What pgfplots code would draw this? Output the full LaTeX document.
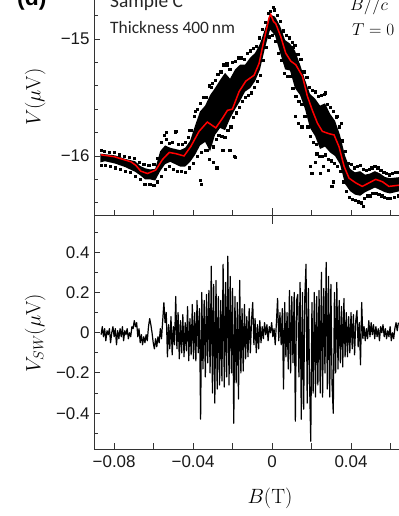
\documentclass[border=0pt]{standalone}
\usepackage[no-math]{fontspec}
\setmainfont{Liberation Sans}
\newfontfamily\calib{Carlito}
\usepackage{pgfplots}
\pgfplotsset{compat=1.18}

\pgfplotsset{
  panel/.style={
    scale only axis, width=305bp,
    axis x line*=bottom, axis y line*=left,
    xmin=-0.0902, xmax=0.0643,
    scaled ticks=false,
    xtick={-0.08,-0.06,-0.04,-0.02,0,0.02,0.04,0.06},
    tick align=inside,
    major tick length=5.5bp, minor tick length=3.5bp,
    axis line style={line width=1bp, black!80},
    every tick/.style={line width=0.9bp, black!80},
    ticklabel style={font=\fontsize{17}{17}\selectfont, black!90},
    yticklabel style={xshift=-1bp},
    clip=true,
  },
}

\begin{document}
\begin{tikzpicture}[x=1bp,y=1bp]
% upper panel: raw data + smoothed curve
\begin{axis}[panel,
  at={(94bp,300bp)}, anchor=south west, height=216bp,
  ymin=-16.513, ymax=-14.667,
  xticklabels={},
  ytick={-16,-15}, yticklabels={−16,−15},
  minor ytick={-16.4,-16.2,-15.8,-15.6,-15.4,-15.2,-14.8},
  extra x ticks={0}, extra x tick labels={},
  extra x tick style={major tick length=16bp, tick align=center},
  ylabel={$V(\mu\mathrm{V})$},
  every axis y label/.style={at={(axis description cs:-0.193,0.55)}, rotate=90, anchor=center, font=\fontsize{22}{22}\selectfont},
]
% dense core of the scatter
\addplot[fill=black, draw=none] coordinates {
(-0.0870,-15.98) (-0.0846,-15.985) (-0.0795,-15.995) (-0.0744,-16.025) (-0.0694,-16.045) (-0.0668,-16.085)
(-0.0643,-16.105) (-0.0618,-16.115) (-0.0592,-16.11) (-0.0567,-15.96) (-0.0542,-15.91) (-0.0516,-15.93)
(-0.0491,-15.94) (-0.0466,-15.95) (-0.0440,-15.93) (-0.0415,-15.87) (-0.0390,-15.74) (-0.0365,-15.62)
(-0.0339,-15.57) (-0.0314,-15.48) (-0.0289,-15.42) (-0.0263,-15.35) (-0.0238,-15.29) (-0.0213,-15.34)
(-0.0187,-15.26) (-0.0162,-15.22) (-0.0137,-15.22) (-0.0111,-15.16) (-0.0086,-15.12) (-0.0061,-15.04)
(-0.0035,-14.91) (-0.0010,-14.79) (0.0015,-14.81) (0.0041,-14.89) (0.0066,-15.01) (0.0091,-15.04)
(0.0116,-15.10) (0.0142,-15.22) (0.0167,-15.35) (0.0192,-15.47) (0.0218,-15.51) (0.0243,-15.57)
(0.0268,-15.55) (0.0294,-15.64) (0.0319,-15.70) (0.0344,-15.82) (0.0370,-16.00) (0.0395,-16.11)
(0.0420,-16.14) (0.0446,-16.13) (0.0471,-16.16) (0.0496,-16.15) (0.0521,-16.13) (0.0547,-16.15)
(0.0572,-16.18) (0.0597,-16.19) (0.0650,-16.18)
(0.0650,-16.30) (0.0597,-16.32) (0.0572,-16.31) (0.0547,-16.29) (0.0521,-16.27) (0.0496,-16.29)
(0.0471,-16.31) (0.0446,-16.34) (0.0420,-16.33) (0.0395,-16.30) (0.0370,-16.24) (0.0344,-16.07)
(0.0319,-16.00) (0.0294,-15.97) (0.0268,-15.92) (0.0243,-15.94) (0.0218,-15.83) (0.0192,-15.76)
(0.0167,-15.60) (0.0142,-15.48) (0.0116,-15.42) (0.0091,-15.27) (0.0066,-15.26) (0.0041,-15.12)
(0.0015,-14.97) (-0.0010,-14.92) (-0.0035,-15.07) (-0.0061,-15.26) (-0.0086,-15.36) (-0.0111,-15.42)
(-0.0137,-15.45) (-0.0162,-15.53) (-0.0187,-15.60) (-0.0213,-15.68) (-0.0238,-15.78) (-0.0263,-15.76)
(-0.0289,-15.82) (-0.0314,-15.96) (-0.0339,-15.88) (-0.0365,-15.91) (-0.0390,-15.99) (-0.0415,-16.05)
(-0.0440,-16.09) (-0.0466,-16.09) (-0.0491,-16.07) (-0.0516,-16.05) (-0.0542,-16.07) (-0.0567,-16.13)
(-0.0592,-16.21) (-0.0618,-16.20) (-0.0643,-16.20) (-0.0668,-16.165) (-0.0694,-16.135) (-0.0744,-16.095)
(-0.0795,-16.065) (-0.0846,-16.045) (-0.0870,-16.055)
};
% loose points around the core
\addplot[only marks, mark=square*, mark size=1.1bp, black] coordinates {
(-0.0865,-15.95) (-0.0850,-15.96) (-0.0825,-15.97) (-0.0800,-15.97) (-0.0775,-15.99) (-0.0750,-16.00)
(-0.0725,-16.01) (-0.0700,-16.02) (-0.0675,-16.05) (-0.0650,-16.07) (-0.0625,-16.08) (-0.0600,-16.07)
(-0.0580,-16.02) (-0.0560,-15.88) (-0.0548,-15.82) (-0.0535,-15.86) (-0.0520,-15.89) (-0.0505,-15.88)
(-0.0490,-15.80) (-0.0475,-15.90) (-0.0455,-15.90) (-0.0440,-15.88) (-0.0425,-15.84) (-0.0410,-15.78)
(-0.0395,-15.66) (-0.0380,-15.60) (-0.0365,-15.55) (-0.0350,-15.50) (-0.0335,-15.50) (-0.0320,-15.40)
(-0.0305,-15.38) (-0.0290,-15.35) (-0.0275,-15.30) (-0.0260,-15.28) (-0.0245,-15.22) (-0.0230,-15.21)
(-0.0215,-15.26) (-0.0200,-15.20) (-0.0185,-15.19) (-0.0170,-15.16) (-0.0155,-15.16) (-0.0140,-15.17)
(-0.0125,-15.12) (-0.0110,-15.10) (-0.0095,-15.08) (-0.0080,-15.06) (-0.0065,-14.99) (-0.0050,-14.92)
(-0.0035,-14.86) (-0.0020,-14.78) (-0.0008,-14.76) (0.0010,-14.75) (0.0025,-14.80) (0.0040,-14.85)
(0.0055,-14.93) (0.0070,-14.97) (0.0085,-14.99) (0.0100,-15.03) (0.0115,-15.05) (0.0130,-15.13)
(0.0145,-15.17) (0.0160,-15.28) (0.0175,-15.33) (0.0190,-15.41) (0.0205,-15.44) (0.0220,-15.45)
(0.0235,-15.49) (0.0250,-15.48) (0.0265,-15.47) (0.0280,-15.56) (0.0295,-15.58) (0.0310,-15.62)
(0.0325,-15.67) (0.0340,-15.75) (0.0355,-15.87) (0.0370,-15.96) (0.0385,-16.06) (0.0400,-16.07)
(0.0415,-16.10) (0.0430,-16.09) (0.0445,-16.08) (0.0460,-16.11) (0.0475,-16.12) (0.0490,-16.11)
(0.0505,-16.10) (0.0520,-16.09) (0.0535,-16.10) (0.0550,-16.12) (0.0565,-16.14) (0.0580,-16.15)
(0.0595,-16.16) (0.0610,-16.15) (0.0625,-16.14) (0.0640,-16.14)
(-0.0865,-16.08) (-0.0845,-16.08) (-0.0820,-16.09) (-0.0795,-16.10) (-0.0770,-16.11) (-0.0745,-16.13)
(-0.0720,-16.14) (-0.0695,-16.17) (-0.0670,-16.20) (-0.0645,-16.24) (-0.0620,-16.24) (-0.0600,-16.25)
(-0.0580,-16.22) (-0.0560,-16.17) (-0.0540,-16.11) (-0.0520,-16.09) (-0.0500,-16.11) (-0.0480,-16.13)
(-0.0460,-16.13) (-0.0440,-16.14) (-0.0420,-16.10) (-0.0400,-16.06) (-0.0380,-16.00) (-0.0360,-15.97)
(-0.0340,-15.95) (-0.0320,-16.03) (-0.0300,-15.92) (-0.0285,-15.86) (-0.0270,-15.82) (-0.0255,-15.83)
(-0.0240,-15.84) (-0.0225,-15.78) (-0.0210,-15.75) (-0.0195,-15.67) (-0.0180,-15.63) (-0.0165,-15.58)
(-0.0150,-15.53) (-0.0135,-15.50) (-0.0120,-15.48) (-0.0105,-15.46) (-0.0090,-15.41) (-0.0075,-15.36)
(-0.0060,-15.31) (-0.0045,-15.18) (-0.0030,-15.07) (-0.0015,-14.98) (0.0000,-14.97) (0.0015,-15.02)
(0.0030,-15.12) (0.0045,-15.18) (0.0060,-15.29) (0.0075,-15.32) (0.0090,-15.32) (0.0105,-15.42)
(0.0120,-15.49) (0.0135,-15.53) (0.0150,-15.56) (0.0165,-15.66) (0.0180,-15.75) (0.0195,-15.83)
(0.0210,-15.88) (0.0225,-15.90) (0.0240,-16.00) (0.0255,-16.00) (0.0270,-15.99) (0.0285,-16.03)
(0.0300,-16.04) (0.0315,-16.06) (0.0330,-16.09) (0.0345,-16.13) (0.0360,-16.22) (0.0375,-16.30)
(0.0390,-16.35) (0.0405,-16.37) (0.0420,-16.38) (0.0435,-16.39) (0.0450,-16.40) (0.0465,-16.36)
(0.0480,-16.34) (0.0495,-16.34) (0.0510,-16.32) (0.0525,-16.32) (0.0540,-16.33) (0.0555,-16.34)
(0.0570,-16.35) (0.0585,-16.36) (0.0600,-16.36) (0.0620,-16.35) (0.0640,-16.34)
(-0.0488,-15.79) (-0.0538,-15.80) (-0.0365,-16.21) (-0.0361,-16.24) (-0.0331,-15.95) (-0.0310,-15.41)
(-0.0280,-16.10) (-0.0229,-15.22) (-0.0192,-16.00) (-0.0187,-16.01) (-0.0250,-15.95) (-0.0215,-15.95)
(-0.0300,-16.05) (-0.0390,-15.62) (-0.0420,-15.78) (0.0108,-15.07) (0.0116,-15.66) (0.0133,-15.72)
(0.0150,-15.75) (0.0192,-16.09) (0.0201,-16.15) (0.0226,-15.98) (0.0243,-16.15) (0.0260,-16.09)
(0.0268,-15.46) (0.0302,-16.26) (0.0310,-16.22) (0.0327,-15.66) (0.0462,-16.43) (0.0285,-16.12)
(0.0220,-16.05) (0.0350,-15.72) (0.0005,-14.73)
};
% smoothed curve
\addplot[red, line width=1.5bp] coordinates {
(-0.0867,-15.99) (-0.0800,-16.006) (-0.0715,-16.05) (-0.0690,-16.08) (-0.0665,-16.13) (-0.0631,-16.15)
(-0.0589,-16.12) (-0.0555,-16.03) (-0.0521,-15.97) (-0.0488,-15.98) (-0.0446,-16.00) (-0.0412,-15.92)
(-0.0370,-15.79) (-0.0328,-15.71) (-0.0285,-15.76) (-0.0252,-15.68) (-0.0226,-15.61) (-0.0201,-15.60)
(-0.0167,-15.45) (-0.0133,-15.36) (-0.0091,-15.31) (-0.0066,-15.21) (-0.0041,-15.01) (-0.0015,-14.82)
(-0.0007,-14.79) (0.0007,-14.85) (0.0019,-14.87) (0.0044,-14.98) (0.0069,-15.12) (0.0095,-15.19)
(0.0120,-15.22) (0.0154,-15.32) (0.0179,-15.49) (0.0204,-15.61) (0.0230,-15.72) (0.0255,-15.79)
(0.0289,-15.81) (0.0314,-15.82) (0.0339,-15.92) (0.0365,-16.09) (0.0390,-16.19) (0.0424,-16.23)
(0.0457,-16.26) (0.0491,-16.23) (0.0525,-16.20) (0.0559,-16.22) (0.0592,-16.26) (0.0643,-16.25)
};
\end{axis}

% lower panel: oscillating part
\begin{axis}[panel,
  at={(94bp,67bp)}, anchor=south west, height=233bp,
  ymin=-0.578, ymax=0.58,
  xticklabels={−0.08,,−0.04,,0,,0.04,},
  xticklabel style={yshift=-3bp},
  ytick={-0.4,-0.2,0,0.2,0.4}, yticklabels={−0.4,−0.2,0,0.2,0.4},
  minor ytick={-0.5,-0.3,-0.1,0.1,0.3,0.5},
  ylabel={$V_{SW}(\mu\mathrm{V})$},
  every axis y label/.style={at={(axis description cs:-0.193,0.498)}, rotate=90, anchor=center, font=\fontsize{22}{22}\selectfont},
  xlabel={$B(\mathrm{T})$},
  every axis x label/.style={at={(axis description cs:0.577,-0.21)}, anchor=center, font=\fontsize{22}{22}\selectfont},
]
\addplot[black, line width=1.2bp, line join=round] table {
B V
-0.0866 -0.01
-0.0860 0.03
-0.0854 -0.02
-0.0848 0.02
-0.0842 -0.04
-0.0836 0.01
-0.0830 -0.01
-0.0824 0.02
-0.0818 -0.05
-0.0812 0.00
-0.0806 0.03
-0.0800 -0.02
-0.0794 0.02
-0.0788 -0.06
-0.0782 0.01
-0.0776 -0.03
-0.0770 0.02
-0.0764 -0.02
-0.0758 0.03
-0.0752 -0.04
-0.0746 0.01
-0.0740 -0.01
-0.0734 0.02
-0.0728 -0.03
-0.0722 0.00
-0.0716 -0.02
-0.0710 0.03
-0.0704 0.02
-0.0698 0.06
-0.0692 0.03
-0.0686 0.05
-0.0680 -0.02
-0.0674 0.02
-0.0668 -0.05
-0.0662 -0.01
-0.0656 -0.06
-0.0650 -0.02
-0.0644 -0.05
-0.0638 -0.01
-0.0632 -0.04
-0.0626 0.03
-0.0620 0.07
-0.0614 0.04
-0.0608 0.00
-0.0602 -0.05
-0.0596 -0.08
-0.0590 -0.03
-0.0584 -0.07
-0.0578 -0.02
-0.0572 -0.05
-0.0566 0.02
-0.0560 -0.03
-0.0554 0.06
-0.0548 0.15
-0.0542 0.05
-0.0536 0.10
-0.0530 -0.12
-0.0524 0.04
-0.0518 -0.08
-0.0512 0.08
-0.0506 -0.11
-0.0500 0.03
-0.0494 -0.06
-0.0488 0.18
-0.0482 -0.08
-0.0476 0.10
-0.0470 -0.13
-0.0464 0.06
-0.0458 -0.10
-0.0452 0.09
-0.0446 -0.12
-0.0440 0.05
-0.0434 -0.09
-0.0428 0.13
-0.0422 -0.14
-0.0416 0.07
-0.0410 -0.11
-0.0404 0.14
-0.0398 -0.13
-0.0392 0.10
-0.0386 -0.14
-0.0380 0.16
-0.0374 -0.10
-0.0368 0.12
-0.0362 -0.43
-0.0356 0.20
-0.0350 -0.18
-0.0344 0.16
-0.0338 -0.22
-0.0332 0.19
-0.0326 -0.15
-0.0320 0.21
-0.0314 -0.20
-0.0308 0.33
-0.0302 -0.30
-0.0296 0.24
-0.0290 -0.35
-0.0284 0.26
-0.0278 -0.28
-0.0272 0.18
-0.0266 -0.26
-0.0260 0.16
-0.0254 -0.24
-0.0248 0.34
-0.0242 -0.27
-0.0236 0.25
-0.0230 -0.22
-0.0224 0.38
-0.0218 -0.26
-0.0212 0.28
-0.0206 -0.20
-0.0200 0.22
-0.0194 -0.45
-0.0188 0.18
-0.0182 -0.25
-0.0176 0.15
-0.0170 -0.33
-0.0164 0.26
-0.0158 -0.20
-0.0152 0.12
-0.0146 -0.19
-0.0140 0.14
-0.0134 -0.13
-0.0128 0.08
-0.0122 -0.12
-0.0116 0.12
-0.0110 -0.10
-0.0104 0.06
-0.0098 0.15
-0.0092 -0.06
-0.0086 0.07
-0.0080 -0.10
-0.0074 0.04
-0.0068 -0.08
-0.0062 0.06
-0.0056 -0.05
-0.0050 0.03
-0.0044 -0.03
-0.0038 0.05
-0.0032 -0.01
-0.0026 0.04
-0.0020 -0.04
-0.0014 0.03
-0.0008 0.00
-0.0002 0.05
0.0004 -0.02
0.0010 0.02
0.0016 -0.06
0.0022 0.05
0.0028 0.17
0.0034 -0.04
0.0040 0.10
0.0046 -0.06
0.0052 0.12
0.0058 -0.28
0.0064 0.15
0.0070 -0.12
0.0076 0.10
0.0082 -0.18
0.0088 0.21
0.0094 -0.20
0.0100 0.18
0.0106 -0.15
0.0112 0.20
0.0118 -0.44
0.0124 0.16
0.0130 0.19
0.0136 -0.22
0.0142 0.25
0.0148 -0.43
0.0154 0.20
0.0160 -0.38
0.0166 0.18
0.0172 0.34
0.0178 -0.35
0.0184 0.22
0.0190 -0.25
0.0196 -0.54
0.0202 0.15
0.0208 -0.30
0.0214 0.20
0.0220 -0.32
0.0226 0.18
0.0232 -0.26
0.0238 0.21
0.0244 -0.30
0.0250 0.30
0.0256 -0.32
0.0262 0.22
0.0268 -0.20
0.0274 0.35
0.0280 -0.28
0.0286 0.28
0.0292 -0.32
0.0298 0.24
0.0304 -0.26
0.0310 -0.40
0.0316 0.20
0.0322 -0.20
0.0328 0.25
0.0334 -0.18
0.0340 0.16
0.0346 -0.15
0.0352 0.13
0.0358 -0.17
0.0364 0.17
0.0370 -0.12
0.0376 0.10
0.0382 -0.12
0.0388 0.08
0.0394 -0.10
0.0400 0.10
0.0406 -0.08
0.0412 0.09
0.0418 -0.11
0.0424 0.06
0.0430 0.11
0.0436 -0.07
0.0442 0.05
0.0448 -0.16
0.0454 0.15
0.0460 -0.03
0.0466 0.03
0.0472 -0.04
0.0478 0.02
0.0484 -0.03
0.0490 0.06
0.0496 -0.02
0.0502 0.05
0.0508 -0.01
0.0514 0.04
0.0520 -0.03
0.0526 0.03
0.0532 -0.02
0.0538 0.02
0.0544 -0.04
0.0550 0.03
0.0556 0.00
0.0562 0.04
0.0568 -0.02
0.0574 0.02
0.0580 -0.03
0.0586 0.01
0.0592 -0.02
0.0598 0.03
0.0604 -0.04
0.0610 0.00
0.0616 -0.03
0.0622 0.02
0.0628 0.05
0.0634 0.01
0.0640 0.05
};
\end{axis}

% annotations (partly cut by the frame, as in the source figure)
\node[anchor=base west, font=\fontsize{23}{23}\selectfont\bfseries, inner sep=0] at (17bp,510bp) {(d)};
\node[anchor=base west, font=\calib\fontsize{19.5}{19.5}\selectfont, text=black!85, inner sep=0] at (110bp,508bp) {Sample C};
\node[anchor=base west, font=\calib\fontsize{17.5}{17.5}\selectfont, text=black!85, inner sep=0] at (110bp,482bp) {Thickness 400\,nm};
\node[anchor=base west, font=\fontsize{17}{17}\selectfont, inner sep=0] at (350bp,505bp) {$B//c$};
\node[anchor=base west, font=\fontsize{17}{17}\selectfont, inner sep=0] at (352bp,480bp) {$T=0$};

\pgfresetboundingbox
\useasboundingbox (0,0) rectangle (399bp,516bp);
\end{tikzpicture}
\end{document}
